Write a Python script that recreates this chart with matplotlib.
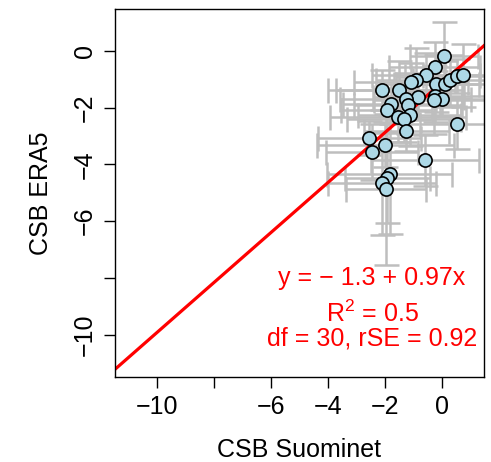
import numpy as np
import matplotlib.pyplot as plt

plt.rcParams['font.family'] = ['Liberation Sans', 'DejaVu Sans']
plt.rcParams['mathtext.fontset'] = 'custom'
plt.rcParams['mathtext.rm'] = 'Liberation Sans'

# CSB values (Suominet vs ERA5)
suominet = [0.07, -0.25, -0.56, -0.92, -1.07, -0.19, 0.11, 0.28, 0.52, 0.73,
            -2.09, -1.50, -0.83, -0.25, 0.02, -0.28, -1.27, -1.77, -1.19, -1.94,
            -1.54, -1.13, -1.33, -1.24, 0.52, -2.54, -1.98, -2.45, -0.60, -1.83,
            -1.91, -2.09, -1.95]
era5 = [-0.19, -0.58, -0.86, -1.01, -1.11, -1.15, -1.17, -1.03, -0.89, -0.86,
        -1.38, -1.36, -1.62, -1.60, -1.68, -1.74, -1.68, -1.88, -1.91, -2.09,
        -2.32, -2.26, -2.40, -2.83, -2.56, -3.06, -3.30, -3.56, -3.85, -4.34,
        -4.46, -4.67, -4.88]
suominet_err = [1.2, 1.6, 1.9, 1.4, 2.0, 1.5, 1.7, 1.3, 1.8, 1.4,
                1.9, 2.2, 1.6, 1.8, 1.5, 2.1, 2.3, 1.7, 1.9, 1.6,
                2.4, 1.8, 2.0, 1.5, 1.3, 1.8, 2.4, 1.6, 1.9, 2.2,
                1.5, 1.9, 1.4]
era5_err = [1.2, 0.9, 0.8, 1.1, 0.7, 1.0, 0.8, 0.9, 0.6, 1.1,
            0.7, 1.0, 0.8, 0.9, 0.6, 1.2, 0.9, 0.7, 1.0, 0.8,
            0.9, 1.1, 0.8, 0.7, 0.9, 0.6, 0.8, 1.0, 0.9, 2.1,
            1.6, 1.8, 2.67]

# fitted line as drawn
intercept = -1.12
slope = 0.88

ticks = [-10, -8, -6, -4, -2, 0]
tick_labels = ['\u221210', '', '\u22126', '\u22124', '\u22122', '0']

fig = plt.figure(figsize=(4.91, 4.62), dpi=100)
ax = fig.add_axes([0.234, 0.1846, 0.7515, 0.796])

ax.errorbar(suominet, era5, xerr=suominet_err, yerr=era5_err, fmt='none',
            ecolor='#bebebe', elinewidth=1.8, capsize=9, capthick=1.8, zorder=1)
ax.axline((0, intercept), slope=slope, color='red', lw=2.3, zorder=2)
ax.plot(suominet, era5, 'o', ms=9.5, mfc='#add8e6', mec='black', mew=1.2, zorder=3)

ax.set_xlim(-11.48, 1.48)
ax.set_ylim(-11.48, 1.48)
ax.set_xticks(ticks)
ax.set_xticklabels(tick_labels)
ax.set_yticks(ticks)
ax.set_yticklabels(tick_labels, rotation=90, va='center')
ax.tick_params(axis='both', length=8, width=1, labelsize=18, pad=5)
for s in ax.spines.values():
    s.set_linewidth(1)

ax.set_xlabel('CSB Suominet', fontsize=18, labelpad=14)
ax.set_ylabel('CSB ERA5', fontsize=18, labelpad=14)

ax.text(-2.45, -8.0, 'y = \u2212 1.3 + 0.97x', color='red', fontsize=18,
        ha='center', va='center')
ax.text(-2.45, -9.25, r'$\mathregular{R^2}$ = 0.5', color='red', fontsize=18,
        ha='center', va='center')
ax.text(-2.45, -10.15, 'df = 30, rSE = 0.92', color='red', fontsize=18,
        ha='center', va='center')

fig.savefig('out.png', dpi=100)
